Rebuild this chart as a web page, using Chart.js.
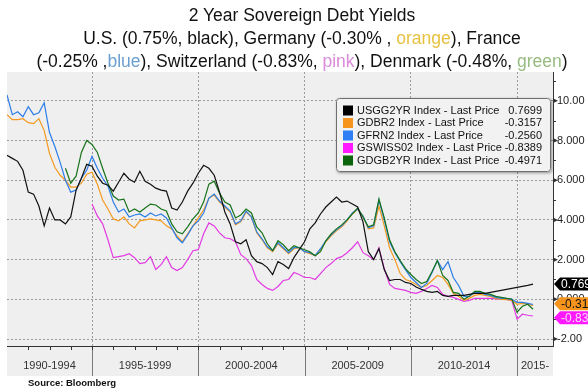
<!DOCTYPE html>
<html>
<head>
<meta charset="utf-8">
<script src="https://cdn.jsdelivr.net/npm/chart.js@4.4.1/dist/chart.umd.min.js"></script>
<style>
  body { margin: 0; background: #fff; }
  #wrap { position: relative; width: 588px; height: 392px; overflow: hidden; }
  canvas { position: absolute; left: 0; top: 0; }
  #title { position: absolute; left: 14px; top: 4px; width: 576px; text-align: center; white-space: nowrap;
           font-family: "Liberation Sans", Arial, sans-serif; font-size: 17.5px; line-height: 23px; color: #111; }
  #source { position: absolute; left: 28px; top: 377px; font: bold 9.5px "Liberation Sans", Arial, sans-serif; color: #111; }
</style>
</head>
<body>
<div id="wrap">
  <canvas id="myChart" width="588" height="392"></canvas>
  <div id="title">2 Year Sovereign Debt Yields<br>U.S. (0.75%, black), Germany (-0.30% , <span style="color:#e8c040">orange</span>), France<br>(-0.25% ,<span style="color:#6b9fd0">blue</span>), Switzerland (-0.83%, <span style="color:#d98ad9">pink</span>), Denmark (-0.48%, <span style="color:#98bb80">green</span>)</div>
  <div id="source">Source: Bloomberg</div>
</div>
<script>
//quarterly readings, first point = 1991.00
const startYear = 1991;
const stepYears = 0.25;

const us = [7.25, 7.1, 6.95, 6.5, 5.4, 5.3, 4.7, 3.7, 4.6, 4.0,
  4.0, 3.8, 4.15, 5.5, 6.1, 6.8, 6.7, 6.2, 5.85, 5.75,
  5.45, 5.9, 6.35, 6.05, 5.9, 6.45, 5.95, 5.8, 5.6, 5.5,
  5.45, 4.6, 4.5, 4.9, 5.45, 5.85, 6.35, 6.75, 6.6, 6.25,
  5.4, 4.4, 3.8, 2.9, 2.8, 3.0, 2.2, 1.9, 1.8, 1.6,
  1.25, 1.9, 1.75, 1.55, 2.1, 2.5, 2.9, 3.55, 3.85, 4.3,
  4.65, 4.9, 5.15, 4.9, 4.95, 4.8, 4.65, 3.9, 2.4, 2.0,
  2.55, 1.5, 0.95, 1.0, 1.0, 0.85, 0.8, 0.62, 0.5, 0.4,
  0.35, 0.4, 0.2, 0.15, 0.2, 0.2, 0.2, 0.25, 0.3, 0.3,
  0.3, 0.35, 0.4, 0.45, 0.5, 0.55, 0.6, 0.65, 0.7, 0.77];

const germany = [9.3, 9.05, 9.05, 9.1, 8.9, 8.85, 9.1, 8.5, 7.35, 6.65,
  6.25, 6.0, 5.65, 5.65, 5.85, 6.3, 6.4, 5.8, 5.0, 4.55,
  4.05, 3.95, 4.15, 3.8, 3.6, 3.95, 4.0, 4.05, 4.0, 3.95,
  3.7, 3.55, 3.2, 2.9, 3.3, 3.7, 4.1, 4.5, 5.1, 5.25,
  4.9, 4.65, 4.4, 3.75, 3.9, 4.4, 4.15, 3.35, 3.0, 2.6,
  2.4, 2.8, 2.55, 2.3, 2.55, 2.6, 2.4, 2.3, 2.2, 2.5,
  2.9, 3.2, 3.45, 3.65, 3.95, 4.3, 4.55, 4.2, 3.55, 3.6,
  4.7, 3.7, 2.6, 2.0, 1.3, 1.0, 0.9, 0.75, 0.6, 0.7,
  0.95, 1.2, 1.1, 0.75, 0.3, 0.15, -0.05, 0.05, 0.2, 0.25,
  0.2, 0.15, 0.05, 0.0, -0.02, -0.05, -0.25, -0.2, -0.22, -0.32];

const france = [10.3, 9.3, 9.45, 9.2, 9.7, 9.3, 9.4, 9.9, 8.4, 7.7,
  6.9, 6.0, 5.4, 5.5, 6.1, 6.5, 7.2, 6.6, 6.1, 5.7,
  4.9, 4.4, 4.55, 4.15, 4.25, 4.3, 4.15, 4.35, 4.2, 4.3,
  4.1, 3.6, 3.1, 2.85, 3.25, 3.7, 3.95, 4.35, 5.1, 5.3,
  4.95, 4.7, 4.45, 3.8, 3.95, 4.45, 4.15, 3.4, 3.05, 2.65,
  2.45, 2.85, 2.6, 2.35, 2.6, 2.6, 2.4, 2.35, 2.2, 2.55,
  2.95, 3.25, 3.5, 3.7, 4.0, 4.35, 4.55, 4.2, 3.6, 3.7,
  5.0, 4.0, 2.9, 2.35, 1.9, 1.5, 1.1, 0.85, 0.6, 0.8,
  1.35, 1.95, 1.5, 1.9, 1.1, 0.7, 0.15, 0.15, 0.35, 0.35,
  0.25, 0.2, 0.1, 0.05, 0.05, 0.0, -0.15, -0.15, -0.2, -0.26];

const switzerland = [null, null, null, null, null, null, null, null, null, null,
  null, null, null, null, null, null, 4.8, 4.2, 3.8, 3.0,
  2.1, 2.15, 2.2, 2.3, 2.1, 1.8, 1.85, 2.15, 1.5, 1.75,
  2.15, 1.6, 1.45, 1.6, 2.0, 2.45, 2.5, 3.3, 3.85, 3.7,
  3.35, 3.1, 3.05, 2.9, 2.25, 2.05, 1.7, 1.0, 0.75, 0.55,
  0.45, 0.65, 0.95, 1.0, 1.35, 1.25, 1.1, 1.1, 1.0, 1.3,
  1.6, 1.8, 2.05, 2.15, 2.35, 2.6, 2.9, 2.35, 2.2, 2.0,
  2.6, 1.55, 0.75, 0.55, 0.5, 0.45, 0.35, 0.3, 0.4, 0.55,
  0.7, 0.6, 0.25, 0.15, 0.1, 0.0, -0.1, -0.05, 0.05, 0.05,
  0.05, 0.05, 0.02, 0.0, 0.0, -0.05, -1.0, -0.75, -0.8, -0.84];

const denmark = [null, null, null, null, null, null, null, null, null, null,
  null, 6.6, 5.85, 6.2, 7.4, 8.0, 7.8, 7.4, 6.6, 5.85,
  5.2, 5.0, 5.05, 4.4, 4.55, 4.4, 4.6, 4.8, 4.75, 4.55,
  4.45, 3.8, 3.4, 3.3, 3.65, 4.05, 4.35, 4.9, 5.8, 5.95,
  5.35, 4.9, 4.75, 4.1, 4.25, 4.55, 4.35, 3.65, 3.35, 2.8,
  2.45, 2.95, 2.75, 2.45, 2.7, 2.6, 2.5, 2.4, 2.2, 2.4,
  2.95, 3.3, 3.55, 3.75, 4.0, 4.3, 4.6, 4.15, 3.65, 3.75,
  5.05, 4.1, 3.0, 2.4, 1.95, 1.55, 1.25, 1.0, 0.8, 0.9,
  1.4, 1.95, 1.2, 0.95, 0.35, 0.3, 0.0, 0.15, 0.4, 0.4,
  0.3, 0.25, 0.15, 0.1, 0.05, 0.02, -0.65, -0.35, -0.25, -0.5];

const seriesNames = ['USGG2YR Index - Last Price', 'GDBR2 Index - Last Price', 'GFRN2 Index - Last Price',
  'GSWISS02 Index - Last Price', 'GDGB2YR Index - Last Price'];
const lastPrices = [0.7699, -0.3157, -0.2560, -0.8389, -0.4971];
const lineColors = ['#111111', '#f39a1e', '#2c7de8', '#e33be3', '#17731a'];
const swatchColors = ['#000000', '#f7941d', '#2f7ff5', '#ff19ff', '#0b640b'];

const yTicks = [-2, 0, 2, 4, 6, 8, 10];
const yTickLabels = ['-2.00', '0.000', '2.000', '4.000', '6.000', '8.000', '10.00'];
const periodEdges = [1995, 2000, 2005, 2010, 2015];
const periodLabels = ['1990-1994', '1995-1999', '2000-2004', '2005-2009', '2010-2014', '2015-'];
const xMin = 1991, xMax = 2016.69;

const years = us.map((v, i) => startYear + i * stepYears);
const bounds = [xMin, ...periodEdges, xMax];
const periodCenters = periodLabels.map((l, i) => (bounds[i] + bounds[i + 1]) / 2);

const font = '"Liberation Sans", Arial, sans-serif';

//background, band under the x axis, minor ticks
const framePlugin = {
  id: 'frame',
  beforeDraw(chart) {
    const {ctx, chartArea: a, scales: {x}} = chart;
    ctx.save();
    ctx.fillStyle = '#efefef';
    ctx.fillRect(a.left, a.top, a.right - a.left, x.bottom - a.top);
    ctx.restore();
  },
  afterDraw(chart) {
    const {ctx, chartArea: a, scales: {x, y}} = chart;
    ctx.save();
    ctx.strokeStyle = '#7a7a7a';
    ctx.lineWidth = 1;
    periodEdges.forEach(v => {
      const px = Math.round(x.getPixelForValue(v)) + 0.5;
      ctx.beginPath(); ctx.moveTo(px, a.bottom); ctx.lineTo(px, x.bottom); ctx.stroke();
    });
    ctx.strokeStyle = '#333';
    for (let yr = 1992; yr < xMax; yr++) {
      const px = Math.round(x.getPixelForValue(yr)) + 0.5;
      ctx.beginPath(); ctx.moveTo(px, a.bottom); ctx.lineTo(px, a.bottom + 4); ctx.stroke();
    }
    for (let v = -1; v < 12; v += 2) {
      const py = Math.round(y.getPixelForValue(v)) + 0.5;
      ctx.beginPath(); ctx.moveTo(a.right, py); ctx.lineTo(a.right + 3, py); ctx.stroke();
    }
    ctx.fillStyle = '#333';
    yTicks.forEach(v => {
      const py = y.getPixelForValue(v);
      ctx.beginPath(); ctx.moveTo(a.right, py - 2.5); ctx.lineTo(a.right + 5, py); ctx.lineTo(a.right, py + 2.5); ctx.fill();
    });
    ctx.restore();
  }
};

//legend box inside the plot
const boxLegend = {
  id: 'boxLegend',
  afterDatasetsDraw(chart) {
    const {ctx, chartArea: a} = chart;
    const bx = a.right - 217, by = a.top + 26, bw = 215, bh = 74;
    ctx.save();
    ctx.shadowColor = 'rgba(0,0,0,0.4)';
    ctx.shadowBlur = 3;
    ctx.shadowOffsetX = 1;
    ctx.shadowOffsetY = 1;
    ctx.fillStyle = '#f2f2f2';
    ctx.beginPath(); ctx.roundRect(bx, by, bw, bh, 3); ctx.fill();
    ctx.shadowColor = 'transparent';
    ctx.strokeStyle = '#6f6f6f';
    ctx.lineWidth = 1;
    ctx.beginPath(); ctx.roundRect(bx + 0.5, by + 0.5, bw - 1, bh - 1, 3); ctx.stroke();
    ctx.font = '11px ' + font;
    ctx.textBaseline = 'middle';
    seriesNames.forEach((name, i) => {
      const cy = by + 12.5 + i * 12.5;
      ctx.fillStyle = swatchColors[i];
      ctx.fillRect(bx + 7, cy - 5, 10, 10);
      ctx.fillStyle = '#111';
      ctx.textAlign = 'left';
      ctx.fillText(name, bx + 21, cy);
      ctx.textAlign = 'right';
      ctx.fillText(lastPrices[i].toFixed(4), bx + 206, cy);
    });
    ctx.restore();
  }
};

//last value tags on the right axis
const valueTags = {
  id: 'valueTags',
  afterDraw(chart) {
    const {ctx, chartArea: a, scales: {y}} = chart;
    const tags = [
      {v: lastPrices[0], bg: '#000', fg: '#fff'},
      {v: lastPrices[1], bg: '#f7941d', fg: '#111'},
      {v: lastPrices[3], bg: '#ff19ff', fg: '#fbd6fb'}
    ].map(t => Object.assign(t, {py: y.getPixelForValue(t.v)}));
    //push overlapping tags apart
    for (let i = 1; i < tags.length; i++) {
      const gap = tags[i].py - tags[i - 1].py;
      if (gap < 14) {
        const d = (14 - gap) / 2;
        tags[i - 1].py -= d; tags[i].py += d;
      }
    }
    ctx.save();
    ctx.font = '12px ' + font;
    ctx.textBaseline = 'middle';
    tags.forEach(t => {
      const x0 = a.right + 1, h = 6.5;
      ctx.fillStyle = t.bg;
      ctx.beginPath();
      ctx.moveTo(x0, t.py);
      ctx.lineTo(x0 + 6, t.py - h);
      ctx.lineTo(chart.width, t.py - h);
      ctx.lineTo(chart.width, t.py + h);
      ctx.lineTo(x0 + 6, t.py + h);
      ctx.closePath();
      ctx.fill();
      ctx.fillStyle = t.fg;
      ctx.textAlign = 'left';
      ctx.fillText(t.v.toFixed(4), x0 + 7, t.py + 0.5);
    });
    ctx.restore();
  }
};

const makeSet = (i, data) => ({
  label: seriesNames[i],
  data: data,
  borderColor: lineColors[i],
  borderWidth: 1.2,
  pointRadius: 0,
  tension: 0,
  spanGaps: false
});

let myChart = document.getElementById('myChart').getContext('2d');

let dataChart = new Chart(myChart, {
  type: 'line',
  data: {
    labels: years,
    datasets: [
      makeSet(0, us),
      makeSet(4, denmark),
      makeSet(2, france),
      makeSet(1, germany),
      makeSet(3, switzerland)
    ]
  },
  options: {
    responsive: false,
    animation: false,
    layout: { padding: { left: 7, top: 72, right: 0, bottom: 16 } },
    plugins: { legend: { display: false }, tooltip: { enabled: false }, title: { display: false } },
    scales: {
      x: {
        type: 'linear',
        min: xMin,
        max: xMax,
        afterBuildTicks: s => { s.ticks = [...periodEdges, ...periodCenters].map(v => ({value: v})); },
        afterFit: s => { s.height = 30; },
        grid: {
          color: c => periodEdges.includes(c.tick && c.tick.value) ? '#9a9a9a' : 'transparent',
          lineWidth: 1,
          drawTicks: false
        },
        border: { display: true, color: '#333', width: 1, dash: [2, 2] },
        ticks: {
          autoSkip: false,
          maxRotation: 0,
          padding: 13,
          color: '#333',
          font: { family: font, size: 11 },
          callback: v => {
            const i = periodCenters.indexOf(v);
            return i >= 0 ? periodLabels[i] : '';
          }
        }
      },
      y: {
        position: 'right',
        min: -2.35,
        max: 11.45,
        afterBuildTicks: s => { s.ticks = yTicks.map(v => ({value: v})); },
        afterFit: s => { s.width = 35; },
        grid: { color: '#9a9a9a', lineWidth: 1, drawTicks: false },
        border: { display: true, color: '#333', width: 1, dash: [2, 2] },
        ticks: {
          padding: 4,
          color: '#222',
          font: { family: font, size: 11 },
          callback: v => yTickLabels[yTicks.indexOf(v)]
        }
      }
    }
  },
  plugins: [framePlugin, boxLegend, valueTags]
});
</script>
</body>
</html>
